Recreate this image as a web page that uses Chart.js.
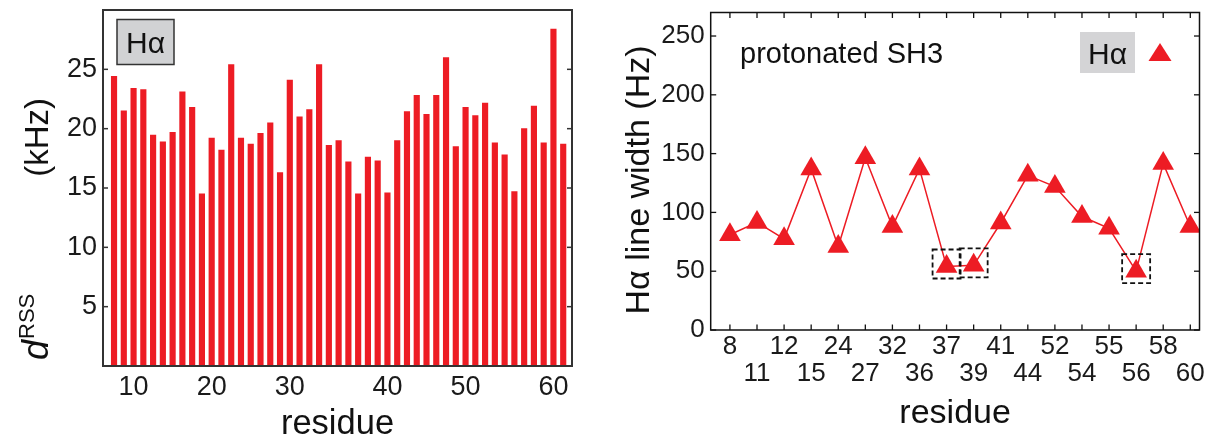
<!DOCTYPE html>
<html>
<head>
<meta charset="utf-8">
<script src="https://cdn.jsdelivr.net/npm/chart.js@4.4.1/dist/chart.umd.min.js"></script>
<style>
  body { margin: 0; background: #fff; }
  #wrap { position: relative; width: 1212px; height: 439px; }
  #left { position: absolute; left: 0; top: 0; }
  #right { position: absolute; left: 600px; top: 0; }
</style>
</head>
<body>
<div id="wrap">
  <canvas id="left" width="600" height="439"></canvas>
  <canvas id="right" width="612" height="439"></canvas>
</div>
<script>
// left panel: d_RSS per residue
const residuesLeft = [8, 9, 10, 11, 12, 14, 15, 16, 17, 18, 20, 21, 22, 23, 24, 26, 27, 29, 30, 31, 32, 33, 34, 35, 36, 37, 38, 39, 40,
  41, 42, 44, 45, 46, 48, 49, 50, 51, 52, 54, 55, 56, 57, 58, 59, 60, 61];
const dRss = [24.4, 21.5, 23.4, 23.3, 19.45, 18.9, 19.7, 23.1, 21.8, 14.5,
  19.2, 18.2, 25.4, 19.2, 18.7, 19.6, 20.5, 16.3, 24.1, 21.0,
  21.6, 25.4, 18.6, 19.0, 17.2, 14.5, 17.6, 17.3, 14.6, 19.0,
  21.45, 22.8, 21.2, 22.8, 26.0, 18.5, 21.8, 21.1, 22.15, 18.8,
  17.8, 14.7, 20.0, 21.9, 18.8, 28.4, 18.7];
const leftXTickLabels = [10, 20, 30, 40, 50, 60];
const leftYTicks = [5, 10, 15, 20, 25];

// right panel: H-alpha line widths
const residuesRight = ['8', '11', '12', '15', '24', '27', '32', '36', '37', '39', '41', '44', '52', '54', '55', '56', '58', '60'];
const lineWidthHz = [81, 91.5, 77.5, 137, 71, 146.5, 88, 137, 54, 55, 91, 131.5, 122, 96.5, 86.5, 50, 141.5, 88];
const boxedResidues = ['37', '39', '56'];
const rightYTicks = [0, 50, 100, 150, 200, 250];

const RED = 'rgb(237,28,36)';
const FONT = '"Liberation Sans", Arial, sans-serif';
Chart.defaults.font.family = FONT;
Chart.defaults.color = '#1a1a1a';

function seg(ctx, x1, y1, x2, y2) {
  ctx.beginPath(); ctx.moveTo(x1, y1); ctx.lineTo(x2, y2); ctx.stroke();
}

// fixed axis size, no extra label padding
function fixSize(prop, size) {
  return s => {
    s[prop] = size;
    s.paddingTop = s.paddingBottom = s.paddingLeft = s.paddingRight = 0;
  };
}

// box around plot with inward tick marks
const framePlugin = {
  id: 'frame',
  afterDatasetsDraw(chart, args, o) {
    const { ctx, chartArea: a, scales } = chart;
    ctx.save();
    ctx.strokeStyle = o.color;
    ctx.lineWidth = o.tickWidth;
    (o.yTicks || []).forEach(v => {
      const y = scales.y.getPixelForValue(v);
      seg(ctx, a.left, y, a.left + o.len, y);
      seg(ctx, a.right, y, a.right - o.len, y);
    });
    (o.xTicks || []).forEach(v => {
      const x = scales.x.getPixelForValue(v);
      seg(ctx, x, a.top, x, a.top + o.len);
      seg(ctx, x, a.bottom, x, a.bottom - o.len);
    });
    ctx.lineWidth = o.width;
    ctx.strokeRect(a.left, a.top, a.right - a.left, a.bottom - a.top);
    ctx.restore();
  }
};

// ---------- left chart ----------
const leftLabels = {
  id: 'leftLabels',
  afterDraw(chart) {
    const { ctx, chartArea: a } = chart;
    ctx.save();
    // H-alpha tag
    ctx.fillStyle = '#d1d2d4';
    ctx.fillRect(117, 19.5, 57, 45);
    ctx.strokeStyle = '#333';
    ctx.lineWidth = 1.5;
    ctx.strokeRect(117, 19.5, 57, 45);
    ctx.fillStyle = '#111';
    ctx.font = '30px ' + FONT;
    ctx.textAlign = 'center';
    ctx.textBaseline = 'alphabetic';
    ctx.fillText('Hα', 145.5, 53);
    // x title
    ctx.font = '34.5px ' + FONT;
    ctx.fillText('residue', (a.left + a.right) / 2, 434);
    // y title, rotated
    ctx.translate(48, 360);
    ctx.rotate(-Math.PI / 2);
    ctx.textAlign = 'left';
    ctx.font = 'italic 36px ' + FONT;
    ctx.fillText('d', 0, 0);
    const x = ctx.measureText('d').width + 1;
    ctx.font = '22px ' + FONT;
    ctx.fillText('RSS', x, -14);
    ctx.font = '33px ' + FONT;
    ctx.textAlign = 'right';
    ctx.fillText('(kHz)', 262, 0);
    ctx.restore();
  }
};

new Chart(document.getElementById('left'), {
  type: 'bar',
  data: {
    datasets: [{
      data: dRss.map((v, i) => ({ x: i, y: v })),
      backgroundColor: RED,
      borderWidth: 0,
      barThickness: 5.5
    }]
  },
  options: {
    responsive: false,
    animation: false,
    layout: { padding: { top: 10, right: 28, left: 0, bottom: 0 } },
    plugins: {
      legend: { display: false },
      tooltip: { enabled: false },
      frame: { color: '#333', width: 2, tickWidth: 1.5, len: 5, yTicks: leftYTicks }
    },
    scales: {
      x: {
        type: 'linear',
        offset: false,
        min: -1.13,
        max: 46.9,
        grid: { display: false, drawTicks: false },
        border: { display: false },
        afterBuildTicks: s => {
          s.ticks = leftXTickLabels.map(r => ({ value: residuesLeft.indexOf(r) }));
        },
        ticks: {
          font: { size: 27 },
          padding: 5,
          maxRotation: 0,
          autoSkip: false,
          callback: v => String(residuesLeft[v])
        },
        afterFit: fixSize('height', 73)
      },
      y: {
        min: 0,
        max: 30,
        grid: { display: false, drawTicks: false },
        border: { display: false },
        afterBuildTicks: s => { s.ticks = leftYTicks.map(v => ({ value: v })); },
        ticks: { font: { size: 27 }, padding: 6 },
        afterFit: fixSize('width', 103)
      }
    }
  },
  plugins: [framePlugin, leftLabels]
});

// ---------- right chart ----------
const rightLabels = {
  id: 'rightLabels',
  afterDraw(chart) {
    const { ctx, chartArea: a, scales } = chart;
    ctx.save();
    // dashed boxes around selected points
    ctx.strokeStyle = '#111';
    ctx.lineWidth = 1.8;
    ctx.setLineDash([5, 3]);
    boxedResidues.forEach(r => {
      const i = residuesRight.indexOf(r);
      const px = scales.x.getPixelForValue(i);
      const py = scales.y.getPixelForValue(lineWidthHz[i]);
      ctx.strokeRect(px - 14, py - 17, 28, 29);
    });
    ctx.setLineDash([]);
    // text in plot
    ctx.fillStyle = '#111';
    ctx.font = '29px ' + FONT;
    ctx.textAlign = 'left';
    ctx.fillText('protonated SH3', 140, 63);
    // legend
    ctx.fillStyle = '#d4d4d6';
    ctx.fillRect(480, 32, 55, 41);
    ctx.fillStyle = '#111';
    ctx.font = '30px ' + FONT;
    ctx.textAlign = 'center';
    ctx.fillText('Hα', 507.5, 64);
    ctx.fillStyle = RED;
    ctx.beginPath();
    ctx.moveTo(560, 43);
    ctx.lineTo(571.5, 61);
    ctx.lineTo(548.5, 61);
    ctx.closePath();
    ctx.fill();
    // axis titles
    ctx.fillStyle = '#111';
    ctx.font = '34px ' + FONT;
    ctx.fillText('residue', (a.left + a.right) / 2, 423);
    ctx.translate(49, 180);
    ctx.rotate(-Math.PI / 2);
    ctx.fillText('Hα line width (Hz)', 0, 0);
    ctx.restore();
  }
};

new Chart(document.getElementById('right'), {
  type: 'line',
  data: {
    datasets: [{
      data: lineWidthHz.map((v, i) => ({ x: i, y: v })),
      borderColor: RED,
      borderWidth: 1.5,
      backgroundColor: RED,
      pointStyle: 'triangle',
      pointRadius: 12.5,
      pointBorderWidth: 0,
      tension: 0
    }]
  },
  options: {
    responsive: false,
    animation: false,
    layout: { padding: { top: 9.3, right: 11, left: 0, bottom: 0 } },
    plugins: {
      legend: { display: false },
      tooltip: { enabled: false },
      frame: {
        color: '#111', width: 1.5, tickWidth: 1.3, len: 5.5,
        yTicks: rightYTicks,
        xTicks: residuesRight.map((r, i) => i)
      }
    },
    scales: {
      x: {
        type: 'linear',
        offset: false,
        min: -0.71,
        max: 17.34,
        grid: { display: false, drawTicks: false },
        border: { display: false },
        afterBuildTicks: s => { s.ticks = residuesRight.map((r, i) => ({ value: i })); },
        ticks: {
          font: { size: 26, lineHeight: 1.04 },
          padding: 3,
          maxRotation: 0,
          autoSkip: false,
          callback: v => (v % 2 === 0 ? [residuesRight[v], ''] : ['', residuesRight[v]])
        },
        afterFit: fixSize('height', 109)
      },
      y: {
        min: 0,
        max: 270,
        grid: { display: false, drawTicks: false },
        border: { display: false },
        afterBuildTicks: s => { s.ticks = rightYTicks.map(v => ({ value: v })); },
        ticks: { font: { size: 26 }, padding: 6 },
        afterFit: fixSize('width', 110.7)
      }
    }
  },
  plugins: [framePlugin, rightLabels]
});
</script>
</body>
</html>
